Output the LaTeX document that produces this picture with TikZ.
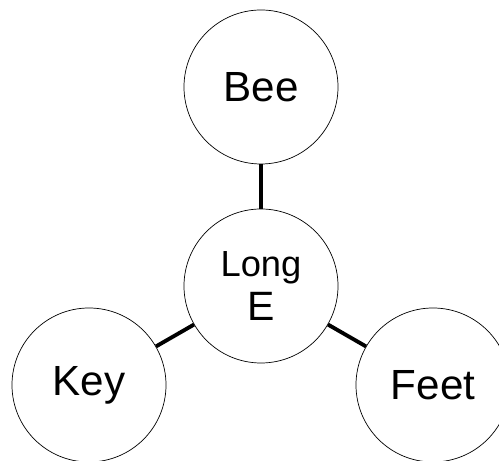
\documentclass[tikz,border=0pt]{standalone}
\usepackage{fontspec}
\setmainfont{Liberation Sans}
\begin{document}
\begin{tikzpicture}[
x=0.03cm, y=0.03cm
]

\tikzstyle{c} = [draw, shape=circle, line width=0.6pt, inner sep=0pt, minimum size=4.62cm, font=\fontsize{36}{43}\selectfont]
\tikzstyle{m} = [c, align=center, font=\fontsize{31}{37.4}\selectfont]
\tikzstyle{l} = [line width=3.3pt]

\useasboundingbox (0,0) rectangle (499,461);

\node[m] (long) at (261,175) {Long\\{\fontsize{35}{37.4}\selectfont E}};
\node[c] (bee)  at (261,374) {Bee};
\node[c] (key)  at (89,76)   {Key};
\node[c] (feet) at (433,76)  {Feet};

\draw[l] (bee) -- (long);
\draw[l] (long) -- (key);
\draw[l] (long) -- (feet);
\end{tikzpicture}
\end{document}
